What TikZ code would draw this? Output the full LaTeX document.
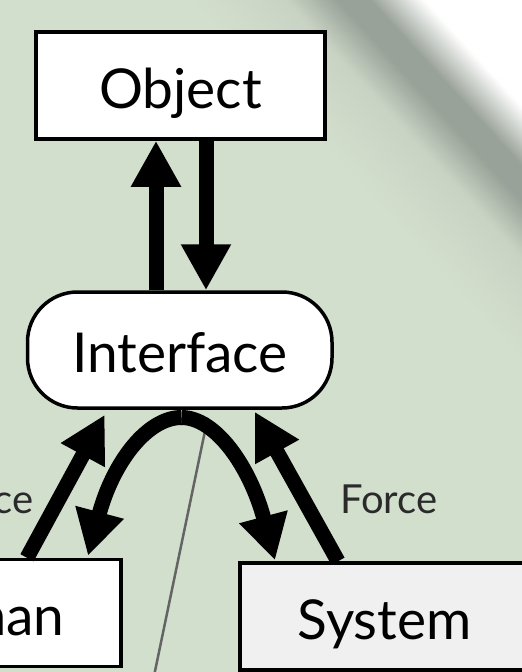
\documentclass[tikz,border=0pt]{standalone}
\usepackage{fontspec}
\setmainfont{Lato}
\usetikzlibrary{arrows.meta,calc}

% background and page-curl colours
\definecolor{bgbase}{HTML}{D3DFCD}
\definecolor{bgnear}{HTML}{C9D3C4}
\definecolor{curlshadow}{HTML}{99A298}
\definecolor{sysfill}{HTML}{F0F0F0}
\definecolor{calloutgray}{HTML}{646464}
\definecolor{labelgray}{HTML}{2A2A2A}

\tikzset{
  blockbox/.style={draw=black, line width=3.5pt, minimum width=289pt,
    minimum height=107pt, inner sep=0pt, text height=45pt, text depth=0pt,
    font=\fontsize{55}{60}\selectfont},
  pillbox/.style={blockbox, fill=white, rounded corners=50pt,
    minimum width=304.5pt, minimum height=116pt},
  fatarrow/.style={line width=15pt, -{Triangle[width=47pt,length=46pt]}},
  fatcurve/.style={line width=15pt, -{Triangle[width=47pt,length=45pt]}},
  forcelabel/.style={inner sep=0pt, text=labelgray,
    font=\fontsize{40}{42}\selectfont},
  callout/.style={draw=calloutgray, line width=2.5pt}
}

\begin{document}
\begin{tikzpicture}[x=1pt, y=-1pt]
  \useasboundingbox (0,0) rectangle (522,672);
  \clip (0,0) rectangle (522,672);

  % backdrop
  \fill[bgbase] (0,0) rectangle (522,672);

  % curled page corner: strips across the fold, green -> shadow -> white
  \begin{scope}[shift={(354,0)}, rotate=42.5]
    \foreach \k in {0,...,119} {
      \pgfmathsetmacro{\na}{-120+1.5*\k}
      \pgfmathsetmacro{\nb}{\na+2}
      \pgfmathsetmacro{\nm}{\na+0.75}
      \pgfmathsetmacro{\pA}{100*min(max((\nm+120)/70,0),1)}
      \pgfmathsetmacro{\pB}{100*min(max((\nm+50)/38,0),1)}
      \pgfmathsetmacro{\pC}{100*min(max((\nm-12)/40,0),1)}
      \colorlet{stripA}{bgnear!\pA!bgbase}
      \colorlet{stripB}{curlshadow!\pB!stripA}
      \colorlet{stripC}{white!\pC!stripB}
      \fill[stripC] (\na,-800) -- (\nb,-800) -- (\nb,800) -- (\na,800) -- cycle;
    }
    \fill[white] (60,-800) -- (400,-800) -- (400,800) -- (60,800) -- cycle;
  \end{scope}

  % blocks
  \node[blockbox, fill=white] (obj) at (180.5,85.5) {Object};
  \node[pillbox] (iface) at (179.75,350) {Interface};
  \node[blockbox, fill=white] (human) at (-23.5,613) {Human};
  \node[blockbox, fill=sysfill] (sys) at (384.5,616.5) {System};

  % anchor points for the connectors
  \coordinate (apex) at ($(iface.south)+(1.75,7.75)$);
  \coordinate (archL) at ($(human.north)+(111.5,-2)$);
  \coordinate (archR) at ($(sys.north)+(-109.5,-1)$);
  \coordinate (pointer) at (149,700);

  % callout line
  \draw[callout] ($(iface.south)+(28,8)$) -- (pointer);

  % object <-> interface
  \draw[fatarrow] ($(iface.north)+(-23.75,0)$) -- ($(obj.south)+(-24.5,0)$);
  \draw[fatarrow] ($(obj.south)+(25.5,0)$) -- ($(iface.north)+(26.25,0)$);

  % force paths into the interface
  \draw[fatarrow] ($(human.north)+(50.5,0)$) -- ($(iface.south)+(-75,5)$);
  \draw[fatarrow] ($(sys.north)+(-46.5,0)$) -- ($(iface.south)+(75,2)$);

  % feedback arch out of the interface
  \draw[fatcurve] (apex) .. controls +(-34.25,0) and +(25,-93.5) .. (archL);
  \draw[fatcurve] (apex) .. controls +(34.25,0) and +(-25,-93.5) .. (archR);

  % labels
  \node[forcelabel, anchor=base east] (forceL) at (34,513) {Force};
  \node[forcelabel, anchor=base west] (forceR) at (340,513) {Force};
\end{tikzpicture}
\end{document}
